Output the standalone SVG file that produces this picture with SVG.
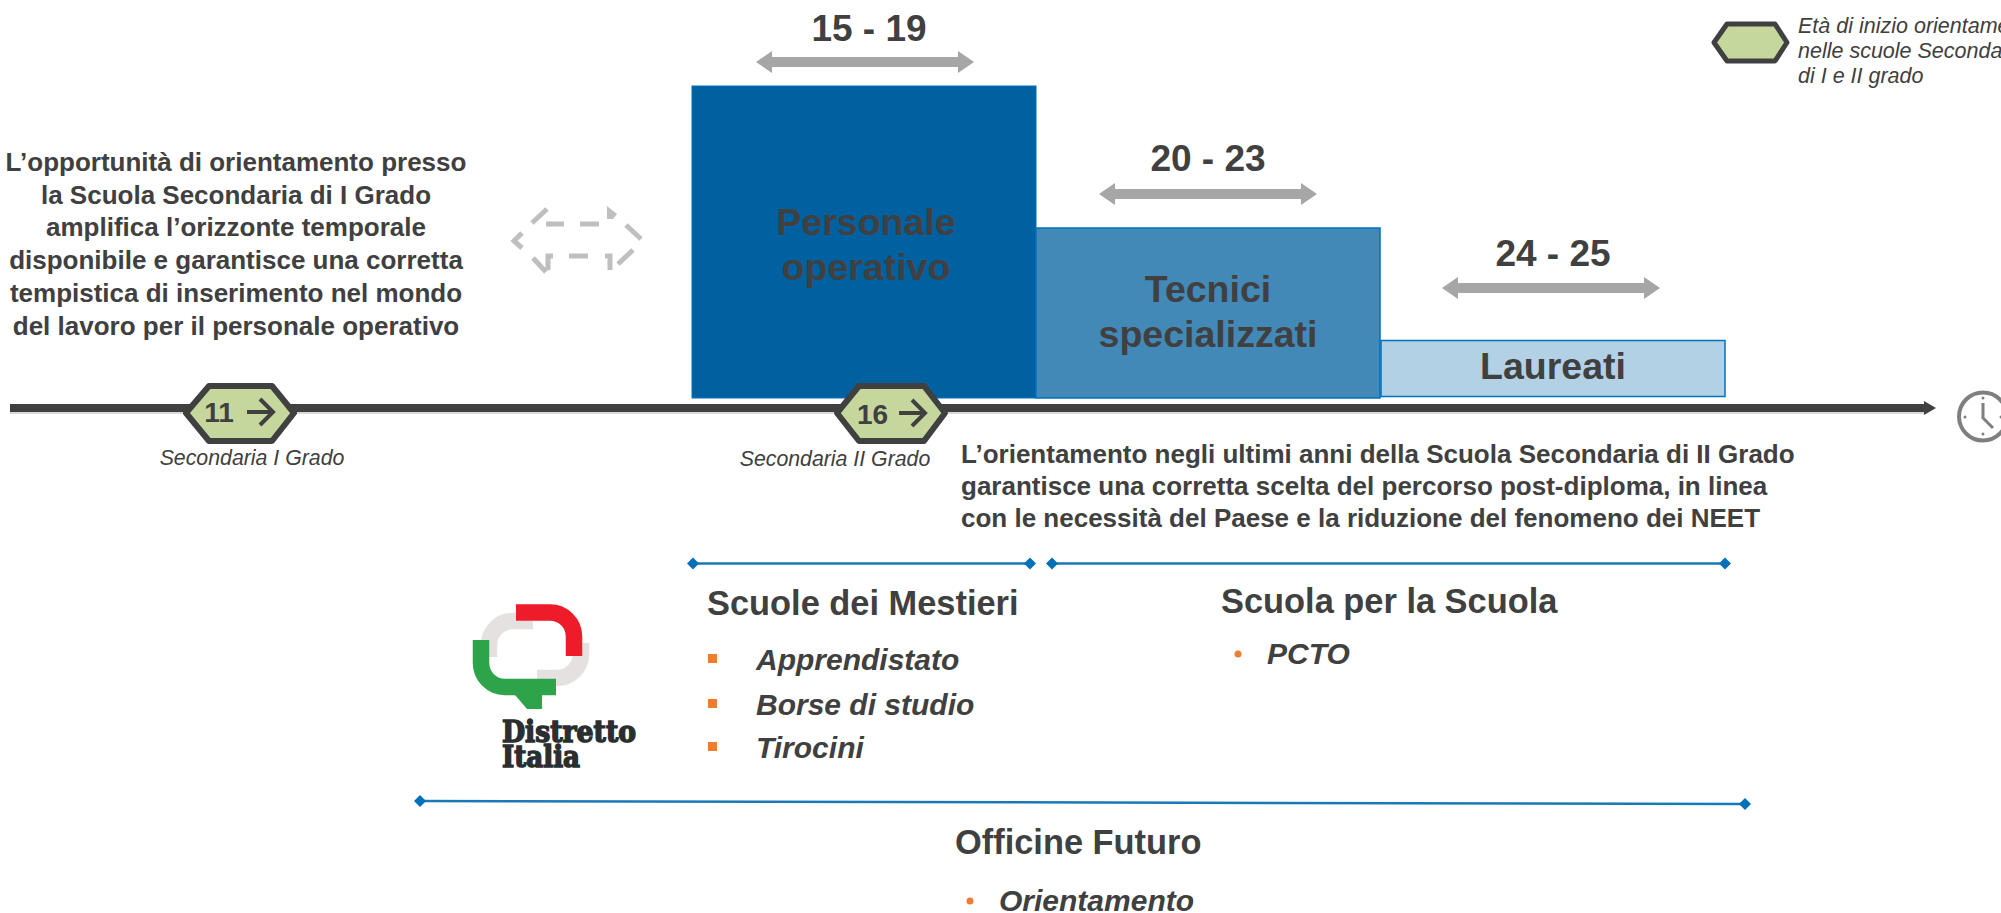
<svg xmlns="http://www.w3.org/2000/svg" width="2001" height="913" viewBox="0 0 2001 913">
<style>
text{font-family:"Liberation Sans",Arial,sans-serif;fill:#404040}
.i{font-style:italic}
.age{font-size:37px;font-weight:700;text-anchor:middle}
.box{font-size:37.500px;font-weight:700;text-anchor:middle}
.para{font-size:26px;font-weight:700;text-anchor:middle}
.para2{font-size:26px;font-weight:700}
.sub{font-size:21.300px;font-style:italic;text-anchor:middle}
.head{font-size:34.400px;font-weight:700}
.li{font-size:30px;font-weight:700;font-style:italic}
.hex{fill:#c5d79d;stroke:#404040;stroke-width:6;stroke-linejoin:round}
.ga{fill:#a6a6a6}
.bl{stroke:#1a78b8;stroke-width:2.5;fill:none}
.di{fill:#0070b8}
.o{fill:#ed7d31}
.da{stroke:#bfbfbf;stroke-width:5;fill:none}
.hn{font-size:28px;font-weight:700;text-anchor:middle}
.ar{stroke:#404040;stroke-width:4;fill:none}
</style>
<defs>
<polygon id="dbl" class="ga" points="0,0 16,-11 16,-5 202,-5 202,-11 218,0 202,11 202,5 16,5 16,11"/>
<polygon id="d" class="di" points="-6,0 0,-6 6,0 0,6"/>
<path id="arw" class="ar" d="M-13 0H12M0 -13L13 0L0 13"/>
</defs>
<g id="timeline"><rect x="10" y="410" width="1915" height="4" fill="#d9d9d9"/><rect x="10" y="404" width="1916" height="8" fill="#404040"/><polygon points="1924,401 1936,408 1924,415" fill="#404040"/></g>
<g id="box-personale"><rect x="692" y="86" width="344" height="312" fill="#0060a0" stroke="#0070c0" stroke-width="1"/><text class="box" x="866" y="235">Personale</text><text class="box" x="866" y="280">operativo</text></g>
<g id="box-tecnici"><rect x="1036" y="228" width="344" height="170" fill="#4389b8" stroke="#0070c0" stroke-width="1.500"/><text class="box" x="1208" y="302">Tecnici</text><text class="box" x="1208" y="347">specializzati</text></g>
<g id="box-laureati"><rect x="1381" y="340.500" width="344" height="56" fill="#b2d1e4" stroke="#0070c0" stroke-width="1.500"/><text class="box" x="1553" y="379">Laureati</text></g>
<g id="age-1519"><text class="age" x="869" y="41">15 - 19</text><use href="#dbl" x="756" y="62"/></g>
<g id="age-2023"><text class="age" x="1208" y="171">20 - 23</text><use href="#dbl" x="1099" y="194"/></g>
<g id="age-2425"><text class="age" x="1553" y="266">24 - 25</text><use href="#dbl" x="1442" y="288"/></g>
<g id="dashed-arrow">
<path class="da" d="M532 223L547 209M546 224H564M580 224H599M626 225L641 239M633 250L618 264M605 256H610V270M569 256H588M553 256H548V270M533 258L546 272M522 233L514 241L522 248"/>
<polygon points="607,219 607,206 617,214 613,219" fill="#bfbfbf"/>
</g>
<g id="hex-11"><polygon class="hex" points="209,386 272,386 294,413 272,441 209,441 186,413"/><text class="hn" x="219" y="422">11</text><use href="#arw" x="260" y="412"/></g>
<g id="hex-16"><polygon class="hex" points="859,386 924,386 945,413 924,441 859,441 837,413"/><text class="hn" x="872.500" y="424">16</text><use href="#arw" x="912" y="413"/></g>
<g id="legend"><polygon class="hex" points="1727,24 1775,24 1787,42.500 1775,61 1727,61 1714,42.500" style="stroke-width:5"/>
<text class="i" font-size="21.500" x="1798" y="33">Età di inizio orientamento</text><text class="i" font-size="21.500" x="1798" y="58">nelle scuole Secondarie</text><text class="i" font-size="21.500" x="1798" y="83">di I e II grado</text></g>
<g id="clock" fill="none" stroke="#7f7f7f"><circle cx="1983" cy="416.500" r="24" stroke-width="4"/><path d="M1983 403V418L1993 428" stroke-width="3"/><g fill="#7f7f7f" stroke="none"><circle cx="1983" cy="398" r="1.500"/><circle cx="1965" cy="417" r="1.500"/><circle cx="1983" cy="434" r="1.500"/><circle cx="2001" cy="417" r="1.500"/></g></g>
<g id="text-left">
<text class="para" x="236" y="171">L’opportunità di orientamento presso</text>
<text class="para" x="236" y="204">la Scuola Secondaria di I Grado</text>
<text class="para" x="236" y="236">amplifica l’orizzonte temporale</text>
<text class="para" x="236" y="269">disponibile e garantisce una corretta</text>
<text class="para" x="236" y="302">tempistica di inserimento nel mondo</text>
<text class="para" x="236" y="335">del lavoro per il personale operativo</text>
</g>
<text class="sub" x="252" y="465">Secondaria I Grado</text>
<text class="sub" x="835" y="466">Secondaria II Grado</text>
<g id="text-right">
<text class="para2" x="961" y="463">L’orientamento negli ultimi anni della Scuola Secondaria di II Grado</text>
<text class="para2" x="961" y="495">garantisce una corretta scelta del percorso post-diploma, in linea</text>
<text class="para2" x="961" y="527">con le necessità del Paese e la riduzione del fenomeno dei NEET</text>
</g>
<g id="connectors">
<path class="bl" d="M693 563.500H1030M1052 563.500H1725M420 801L1745 804"/>
<use href="#d" x="693" y="563.500"/><use href="#d" x="1030" y="563.500"/><use href="#d" x="1052" y="563.500"/><use href="#d" x="1725" y="563.500"/><use href="#d" x="420" y="801"/><use href="#d" x="1745" y="804"/>
</g>
<g id="scuole-mestieri"><text class="head" x="707" y="615">Scuole dei Mestieri</text>
<rect class="o" x="708" y="654" width="9" height="9"/><rect class="o" x="708" y="699" width="9" height="9"/><rect class="o" x="708" y="742" width="9" height="9"/>
<text class="li" x="756" y="670">Apprendistato</text><text class="li" x="756" y="715">Borse di studio</text><text class="li" x="756" y="758">Tirocini</text></g>
<g id="scuola-scuola"><text class="head" x="1221" y="613">Scuola per la Scuola</text><circle class="o" cx="1238" cy="654" r="3.500"/><text class="li" x="1267" y="664">PCTO</text></g>
<g id="officine"><text class="head" x="955" y="854">Officine Futuro</text><circle class="o" cx="970" cy="901" r="3.500"/><text class="li" x="999" y="911">Orientamento</text></g>
<g id="logo" fill="none" stroke-width="16.500">
<path stroke="#e4e1e0" d="M533 621H513A24 24 0 0 0 489 645V657M581 643V654A24 24 0 0 1 557 678H537"/>
<path stroke="#ee1c2a" d="M516 612.500H550A24 24 0 0 1 574 636.500V656"/>
<path stroke="#2ea44a" d="M481 640V663A24 24 0 0 0 505 687H556"/>
<polygon fill="#2ea44a" stroke="none" points="515,695 527,709 542,709 542,693 527,689 518,679"/>
<text x="502" y="742" font-size="29" textLength="134" lengthAdjust="spacingAndGlyphs" style="font-family:'DejaVu Serif',serif;font-weight:700;fill:#2b2e31;stroke:#2b2e31;stroke-width:1.500">Distretto</text>
<text x="502" y="767" font-size="29" textLength="78" lengthAdjust="spacingAndGlyphs" style="font-family:'DejaVu Serif',serif;font-weight:700;fill:#2b2e31;stroke:#2b2e31;stroke-width:1.500">Italia</text>
</g>
</svg>
